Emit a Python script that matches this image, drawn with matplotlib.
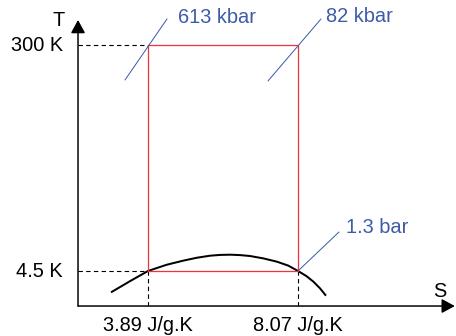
import matplotlib.pyplot as plt
from matplotlib.transforms import ScaledTranslation

plt.rcParams['font.family'] = ['Liberation Sans', 'DejaVu Sans']

# cycle corners
S_left, S_right = 3.89, 8.07        # J/g.K
T_low, T_high = 4.5, 300            # K
S_labels = ['3.89 J/g.K', '8.07 J/g.K']
T_labels = ['4.5 K', '300 K']
pressures = ['613 kbar', '82 kbar', '1.3 bar']

# saturation dome (schematic)
dome_S = [2.86, 3.40, 3.89, 4.40, 4.87, 5.25, 5.62, 5.90, 6.18, 6.45, 6.73, 7.10, 7.48, 7.80, 8.07, 8.30, 8.50, 8.68, 8.85]
dome_T = [-23.4, -8.5, 4.5, 12.5, 18.0, 21.8, 24.5, 25.5, 25.8, 25.3, 24.1, 21.0, 16.7, 11.5, 4.5, -2.0, -9.5, -18.0, -27.8]

# axis frame (schematic origin and arrow tips)
S0, T0 = 1.94, -41.3
S_tip, T_tip = 12.44, 332.7

red = '#e8383d'
blue = '#3d5ba9'

fig = plt.figure(figsize=(456 / 72, 336 / 72), dpi=72)
ax = fig.add_axes([0, 0, 1, 1])
ax.set_xlim(-0.234, 12.473)
ax.set_ylim(-80.5, 358.8)
ax.axis('off')

# axes with arrows
arrow = dict(arrowstyle='-|>,head_length=0.55,head_width=0.3', mutation_scale=20,
             color='black', lw=1.5, shrinkA=0, shrinkB=0)
ax.annotate('', xy=(S_tip, T0), xytext=(S0, T0), arrowprops=arrow)
ax.annotate('', xy=(S0, T_tip), xytext=(S0, T0), arrowprops=arrow)

def pt(dx, dy):
    return ax.transData + ScaledTranslation(dx / 72, dy / 72, fig.dpi_scale_trans)

ax.text(S0, T_tip, 'T', fontsize=20, ha='center', va='center', transform=pt(-19, -1))
ax.text(S_tip, T0, 'S', fontsize=20, ha='center', va='center', transform=pt(-15, 15))

# dashed guides
dash = dict(color='black', lw=1.1, ls=(0, (4, 3)))
ax.plot([S0, S_left], [T_high, T_high], **dash)
ax.plot([S0, S_left], [T_low, T_low], **dash)
for s in (S_left, S_right):
    ax.plot([s, s], [T0, T_low], **dash)

# tick labels
for t, lab in zip((T_low, T_high), T_labels):
    ax.text(S0, t, lab, fontsize=20, ha='right', va='center', transform=pt(-15, -1))
for s, lab in zip((S_left, S_right), S_labels):
    ax.text(s, T0, lab, fontsize=20, ha='center', va='baseline', transform=pt(0, -25))

# dome and cycle
ax.plot(dome_S, dome_T, color='black', lw=2.0, solid_capstyle='butt')
ax.plot([S_left, S_right, S_right, S_left, S_left],
        [T_low, T_low, T_high, T_high, T_low], color=red, lw=1.3)

# isobar leaders and pressure labels
leaders = [((S_left, T_high), (-23, -35), (19, 26), (30, 22)),
           ((S_right, T_high), (-30, -36), (23, 26), (28, 23)),
           ((S_right, T_low), (0, 0), (41, 39), (48, 38))]
for (xy, a, b, txt), lab in zip(leaders, pressures):
    ax.annotate('', xy=xy, xycoords=pt(*a), xytext=xy, textcoords=pt(*b),
                arrowprops=dict(arrowstyle='-', color=blue, lw=1.0, shrinkA=0, shrinkB=0))
    ax.text(xy[0], xy[1], lab, fontsize=20, color=blue, ha='left', va='baseline',
            transform=pt(*txt))

fig.savefig('out.png', dpi=72)
